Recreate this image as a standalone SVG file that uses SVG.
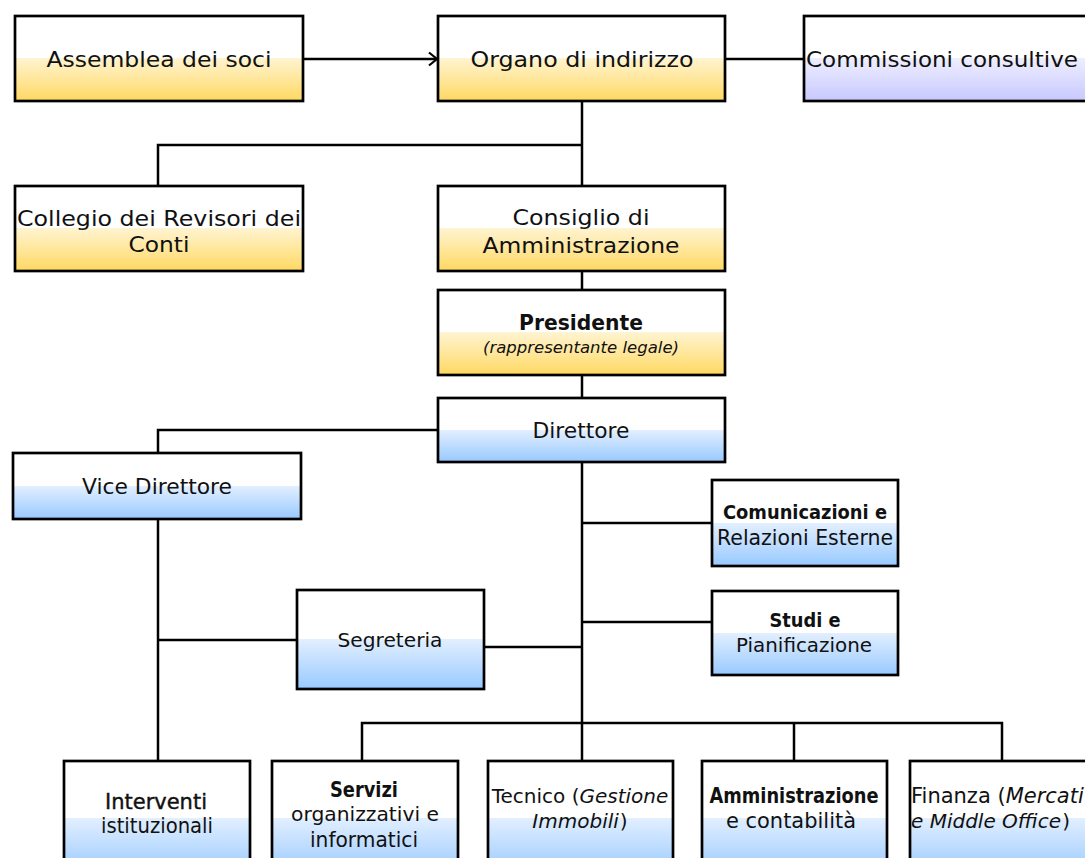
<svg xmlns="http://www.w3.org/2000/svg" width="1085" height="858" viewBox="0 0 1085 858">
<defs>
<linearGradient id="gy" x1="0" y1="0" x2="0" y2="1">
<stop offset="0.5" stop-color="#ffffff"/><stop offset="0.5" stop-color="#fff4d0"/><stop offset="1" stop-color="#ffd862"/>
</linearGradient>
<linearGradient id="gb" x1="0" y1="0" x2="0" y2="1">
<stop offset="0.5" stop-color="#ffffff"/><stop offset="0.5" stop-color="#e2efff"/><stop offset="1" stop-color="#98c9ff"/>
</linearGradient>
<linearGradient id="gl" x1="0" y1="0" x2="0" y2="1">
<stop offset="0.5" stop-color="#ffffff"/><stop offset="0.5" stop-color="#eeeeff"/><stop offset="1" stop-color="#c8c8ff"/>
</linearGradient>
<marker id="arr" markerWidth="12" markerHeight="16" refX="10" refY="8" orient="auto" markerUnits="userSpaceOnUse">
<path d="M2,1.5 L10,8 L2,14.5" fill="none" stroke="#000" stroke-width="2.2"/>
</marker>
</defs>
<style>
.y{fill:url(#gy);stroke:#000;stroke-width:2.7}
.b{fill:url(#gb);stroke:#000;stroke-width:2.7}
.l{fill:url(#gl);stroke:#000;stroke-width:2.7}
text{font-family:"DejaVu Sans","Liberation Sans",sans-serif;font-size:22px;fill:#111;text-anchor:middle}
.bd{font-weight:bold}
.it{font-style:italic}
.st{text-anchor:start}
#conn line,#conn path{stroke:#000;stroke-width:2.5;fill:none}
</style>
<rect width="1085" height="858" fill="#fff"/>
<g id="conn">
<line x1="303" y1="59" x2="437" y2="59" marker-end="url(#arr)"/>
<line x1="725" y1="59" x2="804" y2="59"/>
<line x1="582" y1="101" x2="582" y2="186"/>
<path d="M582,145 H158 V186"/>
<line x1="582" y1="271" x2="582" y2="290"/>
<line x1="582" y1="375" x2="582" y2="398"/>
<path d="M438,430 H158 V453"/>
<line x1="582" y1="462" x2="582" y2="761"/>
<line x1="582" y1="523" x2="712" y2="523"/>
<line x1="582" y1="622" x2="712" y2="622"/>
<line x1="484" y1="647" x2="582" y2="647"/>
<line x1="158" y1="519" x2="158" y2="761"/>
<line x1="158" y1="640" x2="297" y2="640"/>
<path d="M362,761 V723 H1002 V761"/>
<line x1="794" y1="723" x2="794" y2="761"/>
</g>
<g id="assemblea"><rect class="y" x="15" y="16" width="288" height="85"/>
<text x="159" y="67" textLength="225" lengthAdjust="spacingAndGlyphs">Assemblea dei soci</text></g>
<g id="organo"><rect class="y" x="438" y="16" width="287" height="85"/>
<text x="582" y="67" textLength="223" lengthAdjust="spacingAndGlyphs">Organo di indirizzo</text></g>
<g id="commissioni"><rect class="l" x="804" y="16" width="300" height="85"/>
<text class="st" x="806" y="67" textLength="272" lengthAdjust="spacingAndGlyphs">Commissioni consultive</text></g>
<g id="collegio"><rect class="y" x="15" y="186" width="288" height="85"/>
<text x="159" y="226" textLength="284" lengthAdjust="spacingAndGlyphs">Collegio dei Revisori dei</text>
<text x="159" y="252" textLength="61" lengthAdjust="spacingAndGlyphs">Conti</text></g>
<g id="consiglio"><rect class="y" x="438" y="186" width="287" height="85"/>
<text x="581" y="225" textLength="137" lengthAdjust="spacingAndGlyphs">Consiglio di</text>
<text x="581" y="253" textLength="197" lengthAdjust="spacingAndGlyphs">Amministrazione</text></g>
<g id="presidente"><rect class="y" x="438" y="290" width="287" height="85"/>
<text class="bd" x="581" y="330" textLength="124" lengthAdjust="spacingAndGlyphs">Presidente</text>
<text class="it" x="581" y="353" style="font-size:16px" textLength="196" lengthAdjust="spacingAndGlyphs">(rappresentante legale)</text></g>
<g id="direttore"><rect class="b" x="438" y="398" width="287" height="64"/>
<text x="581" y="438" textLength="97" lengthAdjust="spacingAndGlyphs">Direttore</text></g>
<g id="vice"><rect class="b" x="13" y="453" width="288" height="66"/>
<text x="157" y="494" textLength="150" lengthAdjust="spacingAndGlyphs">Vice Direttore</text></g>
<g id="comunicazioni"><rect class="b" x="712" y="480" width="186" height="86"/>
<text class="bd" x="805" y="519" style="font-size:20px" textLength="164" lengthAdjust="spacingAndGlyphs">Comunicazioni e</text>
<text x="805" y="545" style="font-size:21px" textLength="176" lengthAdjust="spacingAndGlyphs">Relazioni Esterne</text></g>
<g id="studi"><rect class="b" x="712" y="591" width="186" height="84"/>
<text class="bd" x="805" y="627" style="font-size:20px" textLength="71" lengthAdjust="spacingAndGlyphs">Studi e</text>
<text x="804" y="652" style="font-size:20px" textLength="136" lengthAdjust="spacingAndGlyphs">Pianificazione</text></g>
<g id="segreteria"><rect class="b" x="297" y="590" width="187" height="99"/>
<text x="390" y="647" style="font-size:20px" textLength="105" lengthAdjust="spacingAndGlyphs">Segreteria</text></g>
<g id="interventi"><rect class="b" x="64" y="761" width="186" height="114"/>
<text x="156" y="809" style="font-size:21px;stroke:#111;stroke-width:0.4" textLength="102" lengthAdjust="spacingAndGlyphs">Interventi</text>
<text x="157" y="833" style="font-size:21px" textLength="112" lengthAdjust="spacingAndGlyphs">istituzionali</text></g>
<g id="servizi"><rect class="b" x="272" y="761" width="186" height="114"/>
<text class="bd" x="364" y="797" style="font-size:21px" textLength="68" lengthAdjust="spacingAndGlyphs">Servizi</text>
<text x="365" y="821" style="font-size:19px" textLength="148" lengthAdjust="spacingAndGlyphs">organizzativi e</text>
<text x="364" y="847" style="font-size:21px" textLength="108" lengthAdjust="spacingAndGlyphs">informatici</text></g>
<g id="tecnico"><rect class="b" x="488" y="761" width="185" height="114"/>
<text x="580" y="803" style="font-size:20px">Tecnico (<tspan class="it">Gestione</tspan></text>
<text x="580" y="828" style="font-size:20px"><tspan class="it">Immobili</tspan><tspan dx="1">)</tspan></text></g>
<g id="amministrazione"><rect class="b" x="702" y="761" width="185" height="114"/>
<text class="bd" x="794" y="803" style="font-size:21px" textLength="169" lengthAdjust="spacingAndGlyphs">Amministrazione</text>
<text x="791" y="828" style="font-size:21px" textLength="130" lengthAdjust="spacingAndGlyphs">e contabilità</text></g>
<g id="finanza"><rect class="b" x="910" y="761" width="200" height="114"/>
<text class="st" x="911" y="803" style="font-size:21px">Finanza (<tspan class="it">Mercati</tspan></text>
<text class="st" x="911" y="828" style="font-size:20px"><tspan class="it">e Middle Office</tspan><tspan dx="1">)</tspan></text></g>
</svg>
